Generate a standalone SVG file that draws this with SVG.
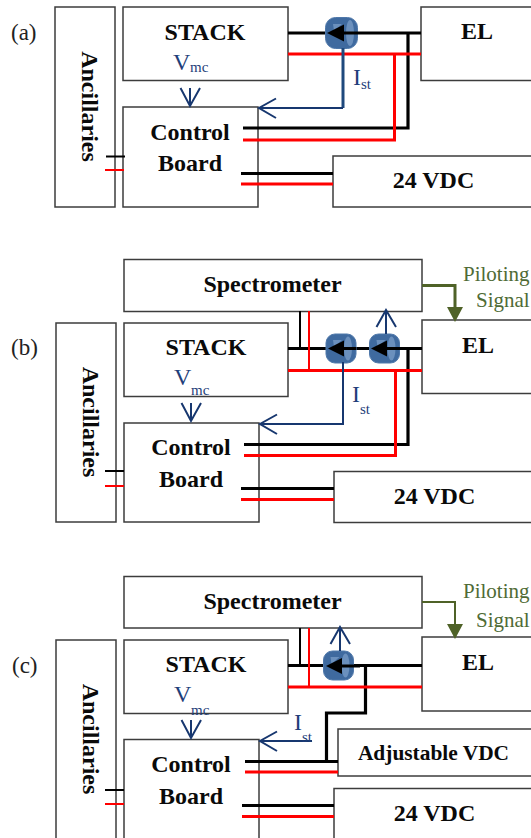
<svg xmlns="http://www.w3.org/2000/svg" width="531" height="838" viewBox="0 0 531 838">
<style>
text{font-family:"Liberation Serif","Times New Roman",serif}
.box{fill:#fff;stroke:#3c3c3c;stroke-width:1.5}
.t{font-weight:bold;font-size:24px;fill:#0a0a0a;text-anchor:middle}
.lb{font-size:23px;fill:#222}
.bl{fill:#1f3f7a;font-size:24px}
.sub{fill:#1f3f7a;font-size:15px}
.gt{fill:#4f6b35;font-size:21px}
.k{fill:none;stroke:#000;stroke-width:3.2}
.r{fill:none;stroke:#f00;stroke-width:3}
.kt{fill:none;stroke:#000;stroke-width:2}
.rt{fill:none;stroke:#f00;stroke-width:2}
.u{fill:none;stroke:#17376f;stroke-width:2}
.ub{fill:none;stroke:#1f497d;stroke-width:3}
.g{fill:none;stroke:#4f6228;stroke-width:3}
.sb{fill:#3f6a9f;stroke:#4f78aa;stroke-width:1}
.si{fill:#6b90bd}
</style>
<defs>
<g id="sensor">
<rect class="sb" x="0" y="0" width="30" height="29" rx="9"/>
<ellipse class="si" cx="22" cy="14.500" rx="4" ry="12"/>
<path class="si" d="M7 6h9l-8 7z"/>
</g>
</defs>

<g id="node-a-ancillaries"><rect class="box" x="55" y="7" width="60" height="200"/><text class="t" transform="translate(82,106.500) rotate(90)">Ancillaries</text></g>
<g id="node-a-stack"><rect class="box" x="123" y="7" width="165" height="73.500"/><text class="t" x="205" y="40">STACK</text></g>
<g id="node-a-control"><rect class="box" x="123" y="107" width="135" height="100"/><text class="t" x="190" y="140">Control</text><text class="t" x="190" y="171">Board</text></g>
<g id="node-a-el"><rect class="box" x="421" y="7" width="115" height="73.500"/><text class="t" x="477" y="39">EL</text></g>
<g id="node-a-24"><rect class="box" x="333" y="156" width="203" height="51"/><text class="t" x="433.500" y="188">24 VDC</text></g>

<g id="node-b-spectrometer"><rect class="box" x="124" y="259.500" width="298" height="52"/><text class="t" x="272.500" y="292">Spectrometer</text></g>
<g id="node-b-ancillaries"><rect class="box" x="56" y="323" width="60" height="199"/><text class="t" transform="translate(83,422) rotate(90)">Ancillaries</text></g>
<g id="node-b-stack"><rect class="box" x="124" y="323" width="164" height="73.500"/><text class="t" x="206" y="355">STACK</text></g>
<g id="node-b-control"><rect class="box" x="124" y="423" width="135" height="99"/><text class="t" x="191" y="455">Control</text><text class="t" x="191" y="487">Board</text></g>
<g id="node-b-el"><rect class="box" x="422" y="320" width="114" height="73.500"/><text class="t" x="478" y="353">EL</text></g>
<g id="node-b-24"><rect class="box" x="334" y="471.500" width="202" height="51"/><text class="t" x="434.500" y="504">24 VDC</text></g>

<g id="node-c-spectrometer"><rect class="box" x="124" y="576.500" width="298" height="51.500"/><text class="t" x="272.500" y="609">Spectrometer</text></g>
<g id="node-c-ancillaries"><rect class="box" x="56" y="640" width="60" height="204"/><text class="t" transform="translate(83,739) rotate(90)">Ancillaries</text></g>
<g id="node-c-stack"><rect class="box" x="124" y="640" width="164" height="73.500"/><text class="t" x="206" y="672">STACK</text></g>
<g id="node-c-control"><rect class="box" x="124" y="739.500" width="135" height="104"/><text class="t" x="191" y="772">Control</text><text class="t" x="191" y="804">Board</text></g>
<g id="node-c-el"><rect class="box" x="422" y="637" width="114" height="74"/><text class="t" x="478" y="670">EL</text></g>
<g id="node-c-adj"><rect class="box" x="338" y="729" width="198" height="47"/><text class="t" style="font-size:21.400px" x="433.500" y="760">Adjustable VDC</text></g>
<g id="node-c-24"><rect class="box" x="334" y="788.500" width="202" height="55"/><text class="t" x="434.500" y="821">24 VDC</text></g>

<g id="connectors">
<!-- panel a -->
<path class="k" d="M288 33H421M408 33V128H243M241 173.500H333"/>
<path class="r" d="M288 54H421M394.500 54V140H243M241 184H333"/>
<path class="kt" d="M106 156.500H125"/>
<path class="rt" d="M105 170H124"/>
<!-- panel b -->
<path class="k" d="M288 348.500H422M408 348.500V444.500H244M241 488.500H334"/>
<path class="r" d="M288 370.500H422M395.500 370.500V455.500H244M241 499.500H334"/>
<path class="kt" d="M105 471H124M300 311V348"/>
<path class="rt" d="M105 486H124M309 311V370"/>
<!-- panel c -->
<path class="k" d="M288 665.500H422M365.500 665.500V713H326.500V761.500M245 761.500H338M242 805.500H334"/>
<path class="r" d="M288 687H422M245 772H338M242 816.500H334"/>
<path class="kt" d="M105 790H124M300 628V665"/>
<path class="rt" d="M105 804H124M309 628V687"/>
</g>

<g id="sensors">
<rect class="sb" x="325.500" y="17.500" width="32" height="31" rx="10"/>
<ellipse class="si" cx="350" cy="33" rx="4" ry="13"/>
<path class="si" d="M333 24h9l-8 7z"/>
<use href="#sensor" x="326" y="334"/>
<use href="#sensor" x="369.500" y="334"/>
<use href="#sensor" x="323.500" y="651"/>
<path d="M327 33L344 24.500V41.500Z"/>
<path d="M328 348.500L344 340.500V356.500Z"/>
<path d="M371 348.500L387 340.500V356.500Z"/>
<path d="M326 666L342 658V674Z"/>
<path class="k" d="M340 33H358M340 348.500H356M383 348.500H406M338 666H360"/>
</g>

<g id="signals">
<path class="ub" d="M343 48V108"/>
<path class="u" d="M343 108H260M276 98.500L259 108L276 118M190 88V106M180.500 88L190 106L200 88"/>
<path class="u" d="M343 362V424H261M277 414.500L260 424L277 434M191 403V421M181.500 403L191 421L201 403M386 334V311M376.500 327L386 310L396 327"/>
<path class="u" d="M312 741H261M277 731.500L260 741L277 751M191 720V738M181.500 720L191 738L201 720M340 651V628M330.500 644L340 627L350 644"/>
<path class="g" d="M422 285.500H455V308"/>
<path d="M447 307H463L455 322Z" fill="#4f6228"/>
<path class="g" style="stroke-width:2" d="M422 602H455V625"/>
<path d="M447 624H463L455 639Z" fill="#4f6228"/>
</g>

<g id="labels">
<text class="lb" x="11" y="40">(a)</text>
<text class="lb" x="11" y="355">(b)</text>
<text class="lb" x="12" y="673">(c)</text>
<text class="bl" x="173" y="70">V</text><text class="sub" x="190" y="72">mc</text>
<text class="bl" x="353" y="85">I</text><text class="sub" x="361" y="89">st</text>
<text class="bl" x="174" y="385">V</text><text class="sub" x="191" y="395">mc</text>
<text class="bl" x="352" y="402">I</text><text class="sub" x="360" y="414">st</text>
<text class="bl" x="174" y="702">V</text><text class="sub" x="191" y="715">mc</text>
<text class="bl" x="294" y="730">I</text><text class="sub" x="302" y="742">st</text>
<text class="gt" x="463" y="281">Piloting</text>
<text class="gt" x="476" y="307">Signal</text>
<text class="gt" x="463" y="598">Piloting</text>
<text class="gt" x="476" y="627">Signal</text>
</g>
</svg>
